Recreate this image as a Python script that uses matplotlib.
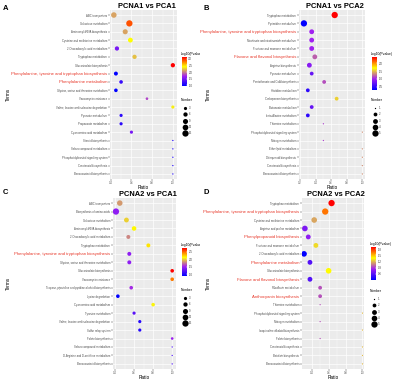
import numpy as np
import matplotlib
matplotlib.use("Agg")
import matplotlib.pyplot as plt
from matplotlib.colors import LinearSegmentedColormap, Normalize
from matplotlib.cm import ScalarMappable
from matplotlib.transforms import Bbox, TransformedBbox

plt.rcParams["font.family"] = ["Liberation Sans", "DejaVu Sans"]

# -----------------------------
# Data: A  PCNA1 vs PCA1
# -----------------------------
a_terms = ["ABC transporters", "Galactose metabolism", "Aminoacyl-tRNA biosynthesis",
           "Cysteine and methionine metabolism", "2-Oxocarboxylic acid metabolism",
           "Tryptophan metabolism", "Glucosinolate biosynthesis",
           "Phenylalanine, tyrosine and tryptophan biosynthesis", "Phenylalanine metabolism",
           "Glycine, serine and threonine metabolism", "Vancomycin resistance",
           "Valine, leucine and isoleucine degradation", "Pyruvate metabolism",
           "Propanoate metabolism", "Cyanoamino acid metabolism", "Steroid biosynthesis",
           "Selenocompound metabolism", "Phosphatidylinositol signaling system",
           "Carotenoid biosynthesis", "Benzoxazinoid biosynthesis"]
a_ratio = [0.43, 0.58, 0.54, 0.59, 0.46, 0.63, 1.0, 0.45, 0.5, 0.45,
           0.75, 1.0, 0.5, 0.5, 0.6, 1.0, 1.0, 1.0, 1.0, 1.0]
a_logp = [2.1, 2.9, 2.1, 2.4, 1.5, 2.2, 3.13, 0.95, 1.2, 0.95,
          1.8, 2.35, 1.15, 1.15, 1.5, 1.1, 1.1, 1.1, 1.1, 1.1]
a_count = [11, 15, 9, 8, 6, 6, 6, 5, 4, 4, 2, 3, 3, 3, 3, 1, 1, 1, 1, 1]
a_red = ["Phenylalanine, tyrosine and tryptophan biosynthesis", "Phenylalanine metabolism"]
a_cb_ticks = [1.0, 1.5, 2.0, 2.5, 3.0]
a_size_breaks = [3, 6, 9, 12, 15]

# -----------------------------
# Data: B  PCNA1 vs PCA2
# -----------------------------
b_terms = ["Tryptophan metabolism", "Pyrimidine metabolism",
           "Phenylalanine, tyrosine and tryptophan biosynthesis",
           "Nicotinate and nicotinamide metabolism", "Fructose and mannose metabolism",
           "Flavone and flavonol biosynthesis", "Arginine biosynthesis", "Pyruvate metabolism",
           "Pantothenate and CoA biosynthesis", "Histidine metabolism",
           "Carbapenem biosynthesis", "Butanoate metabolism", "beta-Alanine metabolism",
           "Thiamine metabolism", "Phosphatidylinositol signaling system",
           "Nitrogen metabolism", "Ether lipid metabolism", "Diterpenoid biosynthesis",
           "Carotenoid biosynthesis", "Benzoxazinoid biosynthesis"]
b_ratio = [0.645, 0.25, 0.35, 0.35, 0.35, 0.39, 0.32, 0.35, 0.51, 0.3,
           0.67, 0.35, 0.3, 0.5, 1.0, 0.5, 1.0, 1.0, 1.0, 1.0]
b_logp = [2.4, 0.3, 1.0, 1.0, 1.0, 1.2, 0.9, 0.75, 1.15, 0.5,
          1.55, 0.75, 0.5, 1.1, 1.35, 1.1, 1.35, 1.35, 1.35, 1.35]
b_count = [5, 5, 3, 3, 3, 3, 3, 2, 2, 2, 2, 2, 2, 1, 1, 1, 1, 1, 1, 1]
b_red = ["Phenylalanine, tyrosine and tryptophan biosynthesis",
         "Flavone and flavonol biosynthesis"]
b_cb_ticks = [0.5, 1.0, 1.5, 2.0]
b_size_breaks = [1, 2, 3, 4, 5]

# -----------------------------
# Data: C  PCNA2 vs PCA1
# -----------------------------
c_terms = ["ABC transporters", "Biosynthesis of amino acids", "Galactose metabolism",
           "Aminoacyl-tRNA biosynthesis", "2-Oxocarboxylic acid metabolism",
           "Tryptophan metabolism", "Phenylalanine, tyrosine and tryptophan biosynthesis",
           "Glycine, serine and threonine metabolism", "Glucosinolate biosynthesis",
           "Vancomycin resistance", "Tropane, piperidine and pyridine alkaloid biosynthesis",
           "Lysine degradation", "Cyanoamino acid metabolism", "Tyrosine metabolism",
           "Valine, leucine and isoleucine degradation", "Sulfur relay system",
           "Folate biosynthesis", "Selenocompound metabolism",
           "D-Arginine and D-ornithine metabolism", "Benzoxazinoid biosynthesis"]
c_ratio = [0.45, 0.41, 0.52, 0.6, 0.54, 0.75, 0.55, 0.55, 1.0, 1.0,
           0.57, 0.43, 0.8, 0.6, 0.66, 0.66, 1.0, 1.0, 1.0, 1.0]
c_logp = [1.85, 1.45, 2.0, 2.15, 1.8, 2.2, 1.45, 1.45, 2.75, 2.45,
          1.55, 0.9, 2.1, 1.25, 1.05, 1.05, 1.5, 1.2, 1.2, 1.2]
c_count = [11, 15, 8, 7, 5, 5, 5, 5, 4, 4, 4, 4, 4, 3, 3, 3, 2, 1, 1, 1]
c_red = ["Phenylalanine, tyrosine and tryptophan biosynthesis"]
c_cb_ticks = [1.0, 1.5, 2.0, 2.5]
c_size_breaks = [3, 6, 9, 12, 15]

# -----------------------------
# Data: D  PCNA2 vs PCA2
# -----------------------------
d_terms = ["Tryptophan metabolism", "Phenylalanine, tyrosine and tryptophan biosynthesis",
           "Cysteine and methionine metabolism", "Arginine and proline metabolism",
           "Phenylpropanoid biosynthesis", "Fructose and mannose metabolism",
           "2-Oxocarboxylic acid metabolism", "Phenylalanine metabolism",
           "Glucosinolate biosynthesis", "Flavone and flavonol biosynthesis",
           "Riboflavin metabolism", "Anthocyanin biosynthesis", "Thiamine metabolism",
           "Phosphatidylinositol signaling system", "Nitrogen metabolism",
           "Isoquinoline alkaloid biosynthesis", "Folate biosynthesis",
           "Carotenoid biosynthesis", "Betalain biosynthesis", "Benzoxazinoid biosynthesis"]
d_ratio = [0.635, 0.56, 0.43, 0.32, 0.36, 0.45, 0.31, 0.38, 0.6, 0.38,
           0.5, 0.5, 0.5, 1.0, 0.5, 1.0, 0.5, 1.0, 1.0, 1.0]
d_logp = [1.9, 1.65, 1.15, 0.72, 0.78, 1.28, 0.3, 0.58, 1.37, 0.58,
          0.95, 0.95, 0.95, 1.2, 0.95, 1.2, 0.95, 1.2, 1.2, 1.2]
d_count = [5, 5, 4, 4, 3, 3, 4, 3, 4, 3, 2, 2, 1, 1, 1, 1, 1, 1, 1, 1]
d_red = ["Phenylalanine, tyrosine and tryptophan biosynthesis",
         "Phenylpropanoid biosynthesis", "Phenylalanine metabolism",
         "Flavone and flavonol biosynthesis", "Anthocyanin biosynthesis"]
d_cb_ticks = [0.6, 0.9, 1.2, 1.5, 1.8]
d_size_breaks = [1, 2, 3, 4, 5]

# -----------------------------
# Layout helpers (pixel coords, origin top-left)
# -----------------------------
W, H = 400, 379
fig = plt.figure(figsize=(W / 100, H / 100), dpi=100)
fig.patch.set_facecolor("white")

cmap = LinearSegmentedColormap.from_list("bpyr", ["blue", "#A020F0", "yellow", "red"])
RED = "#E8392B"


def px(l, t, r, b):
    return [l / W, 1 - b / H, (r - l) / W, (b - t) / H]


def clipbox(l, t, r, b):
    return TransformedBbox(Bbox.from_extents(l / W, 1 - b / H, r / W, 1 - t / H), fig.transFigure)


def diam(n, nmin, nmax):
    f = (np.asarray(n, float) - nmin) / (nmax - nmin)
    return 1.3 + 5.0 * np.sqrt(np.clip(f, 0, 1))


def size_pt2(n, nmin, nmax):
    return (diam(n, nmin, nmax) * 0.72) ** 2


ov = fig.add_axes([0, 0, 1, 1], zorder=10)
ov.set_xlim(0, W)
ov.set_ylim(H, 0)
ov.axis("off")
ov.patch.set_visible(False)


def panel(letter, quad, rect, title, terms, ratio, logp, count, red, xlim, xticks,
          cb_rect, cb_ticks, breaks, leg_y):
    l, t, r, b = rect
    qbox = clipbox(*quad)
    ax = fig.add_axes(px(*rect))
    ax.set_facecolor("#EBEBEB")
    y = np.arange(len(terms))
    norm = Normalize(min(logp), max(logp))
    nmin, nmax = min(count), max(count)
    ax.scatter(ratio, y, s=size_pt2(count, nmin, nmax), c=logp, cmap=cmap, norm=norm,
               linewidths=0, zorder=3)
    ax.set_xlim(*xlim)
    ax.set_ylim(len(terms) - 0.4, -0.6)
    ax.set_xticks(xticks)
    ax.set_xticks([v + 0.1 for v in xticks[:-1]], minor=True)
    ax.set_yticks(y)
    ax.set_yticklabels(terms)
    ax.grid(True, which="major", color="white", lw=0.5)
    ax.grid(True, which="minor", axis="x", color="white", lw=0.25)
    ax.set_axisbelow(True)
    for s in ax.spines.values():
        s.set_visible(False)
    ax.tick_params(which="major", length=1.2, width=0.3, color="#333333",
                   labelsize=2.0, labelcolor="#4D4D4D", pad=0.8)
    ax.tick_params(axis="x", labelsize=1.8, pad=0.6)
    ax.tick_params(which="minor", length=0)
    for lab, term in zip(ax.get_yticklabels(), terms):
        if term in red:
            lab.set_color(RED)
            lab.set_fontsize(3.1)
        lab.set_clip_box(qbox)
        lab.set_clip_on(True)

    # titles and axis labels
    qx, qy = quad[0], quad[1]
    ov.text((l + r) / 2 + 3, t - 3, title, ha="center", va="center",
            fontsize=5.4, fontweight="bold")
    ov.text(qx + 3, qy + 8, letter, ha="left", va="center", fontsize=5.5, fontweight="bold")
    ov.text(qx + 8, (t + b) / 2, "Terms", rotation=90, ha="center", va="center", fontsize=3.4)
    ov.text((l + r) / 2, b + 8.3, "Ratio", ha="center", va="center", fontsize=3.4)

    # colour bar
    cax = fig.add_axes(px(*cb_rect))
    cb = fig.colorbar(ScalarMappable(norm=norm, cmap=cmap), cax=cax)
    cb.set_ticks(cb_ticks)
    cb.outline.set_visible(False)
    cax.tick_params(length=1.0, width=0.3, color="white", direction="in",
                    labelsize=2.0, labelcolor="#333333", pad=1)
    tt = ov.text(cb_rect[0] - 1, cb_rect[1] - 3, "-log10(Pvalue)", ha="left", va="center",
                 fontsize=2.4)
    tt.set_clip_box(qbox)
    tt.set_clip_on(True)

    # size legend
    lx = cb_rect[0]
    ov.text(lx - 1, leg_y, "Number", ha="left", va="center", fontsize=2.4)
    for i, bk in enumerate(breaks):
        yy = leg_y + 8 + i * 6.3
        ov.scatter([lx + 2.5], [yy], s=size_pt2(bk, nmin, nmax), color="black", linewidths=0)
        ov.text(lx + 7, yy, str(bk), ha="left", va="center", fontsize=2.0, color="#333333")


panel("A", (0, 0, 200, 185), (110, 10, 177, 179), "PCNA1 vs PCA1",
      a_terms, a_ratio, a_logp, a_count, a_red, (0.393, 1.04), [0.4, 0.6, 0.8, 1.0],
      (182, 57, 187, 86), a_cb_ticks, a_size_breaks, 100)
panel("B", (200, 0, 400, 185), (299, 10, 365, 179), "PCNA1 vs PCA2",
      b_terms, b_ratio, b_logp, b_count, b_red, (0.187, 1.034), [0.2, 0.4, 0.6, 0.8, 1.0],
      (372, 57, 377, 90), b_cb_ticks, b_size_breaks, 100)
panel("C", (0, 185, 200, 379), (113, 198, 176, 369), "PCNA2 vs PCA1",
      c_terms, c_ratio, c_logp, c_count, c_red, (0.379, 1.04), [0.4, 0.6, 0.8, 1.0],
      (182, 248, 187, 276), c_cb_ticks, c_size_breaks, 290)
panel("D", (200, 185, 400, 379), (302, 198, 364, 369), "PCNA2 vs PCA2",
      d_terms, d_ratio, d_logp, d_count, d_red, (0.286, 1.018), [0.4, 0.6, 0.8, 1.0],
      (371, 247, 376, 280), d_cb_ticks, d_size_breaks, 291)

fig.savefig("out.png", dpi=100, facecolor="white")
